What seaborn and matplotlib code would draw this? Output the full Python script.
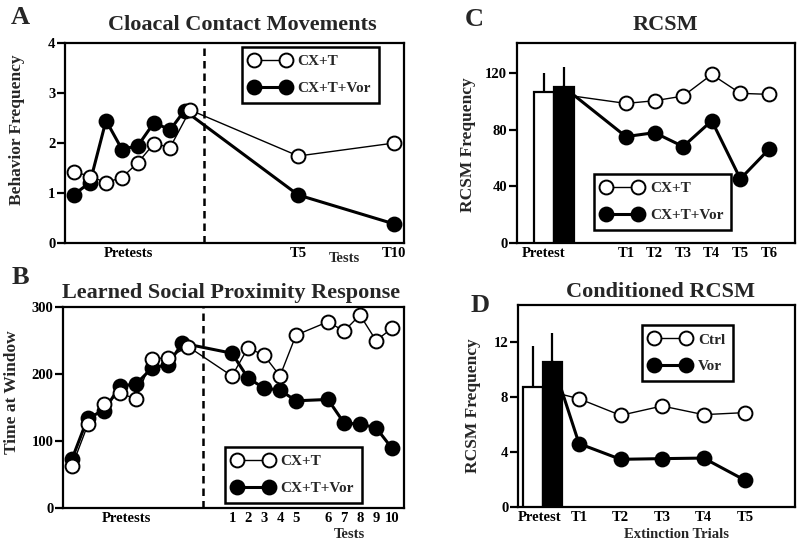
import numpy as np
import pandas as pd
import seaborn as sns
import matplotlib.pyplot as plt
from matplotlib.lines import Line2D

# --- Panel A : Cloacal Contact Movements
a_pre_x_ctrl = [1, 2, 3, 4, 5, 6, 7, 8.25]
a_pre_x_vor = [1, 2, 3, 4, 5, 6, 7, 7.9]
a_pre_ctrl = [1.43, 1.33, 1.21, 1.31, 1.61, 1.99, 1.91, 2.66]
a_pre_vor = [0.97, 1.21, 2.45, 1.87, 1.95, 2.41, 2.26, 2.65]
a_test_x = [15, 21]
a_test_labels = ["T5", "T10"]
a_test_ctrl = [1.74, 2.00]
a_test_vor = [0.96, 0.38]

# --- Panel B : Learned Social Proximity Response
b_pre_x_ctrl = [1, 2, 3, 4, 5, 6, 7, 8.25]
b_pre_x_vor = [1, 2, 3, 4, 5, 6, 7, 7.9]
b_pre_ctrl = [62, 125, 155, 171, 163, 223, 224, 241]
b_pre_vor = [73, 135, 145, 182, 185, 209, 214, 246]
b_test_x = [11, 12, 13, 14, 15, 17, 18, 19, 20, 21]
b_test_labels = ["1", "2", "3", "4", "5", "6", "7", "8", "9", "10"]
b_test_ctrl = [197, 239, 228, 197, 258, 278, 264, 288, 250, 268]
b_test_vor = [231, 194, 179, 176, 160, 162, 127, 125, 120, 89]

# --- Panel C : RCSM
c_bar_x = [-1.88, -1.18]
c_bar_mean = [106.5, 110]
c_bar_err = [13, 14]
c_test_x = [1, 2, 3, 4, 5, 6]
c_test_labels = ["T1", "T2", "T3", "T4", "T5", "T6"]
c_test_ctrl = [98.4, 100.3, 103.6, 118.8, 105.5, 104.8]
c_test_vor = [75, 77.8, 68, 86.2, 45.2, 66.1]

# --- Panel D : Conditioned RCSM
d_bar_x = [-0.12, 0.36]
d_bar_mean = [8.73, 10.55]
d_bar_err = [2.95, 2.1]
d_test_x = [1, 2, 3, 4, 5]
d_test_labels = ["T1", "T2", "T3", "T4", "T5"]
d_test_ctrl = [7.88, 6.67, 7.35, 6.72, 6.87]
d_test_vor = [4.61, 3.47, 3.52, 3.56, 1.94]

sns.set_theme(style="ticks")
plt.rcParams["font.family"] = ["Liberation Serif", "DejaVu Serif"]
plt.rcParams["font.weight"] = "bold"

W, H = 800, 544
fig = plt.figure(figsize=(8, 5.44), dpi=100)


def px_axes(l, t, r, b):
    return fig.add_axes([l / W, 1 - b / H, (r - l) / W, (b - t) / H])


def ftext(x, y, s, **kw):
    fig.text(x / W, 1 - y / H, s, ha="center", va="center", **kw)


def series(ax, x, y, filled, skip_first=False):
    df = pd.DataFrame({"x": x, "y": y})
    kw = dict(color="black", marker="o", markersize=10,
              markerfacecolor="black" if filled else "white",
              markeredgecolor="black", markeredgewidth=1.4,
              linewidth=2.2 if filled else 1.0, zorder=4 if filled else 5)
    if skip_first:
        kw["markevery"] = list(range(1, len(x)))
        kw["zorder"] = 2
    sns.lineplot(data=df, x="x", y="y", ax=ax, sort=False, errorbar=None, **kw)


def style(ax):
    for s in ax.spines.values():
        s.set_linewidth(1.6)
        s.set_color("black")
        s.set_visible(True)
    ax.tick_params(axis="y", direction="out", length=6, width=1.6, pad=1,
                   labelsize=10.5, colors="black")
    ax.tick_params(axis="x", length=0, pad=3, labelsize=10.5, colors="black")
    ax.set_xlabel("")
    ax.set_ylabel("")
    for lab in ax.get_xticklabels() + ax.get_yticklabels():
        lab.set_fontweight("bold")


def legend(ax, labels, x0, ytop):
    h = [Line2D([], [], color="black", lw=1.0, marker="o", ms=10, mfc="white", mec="black", mew=1.4),
         Line2D([], [], color="black", lw=2.2, marker="o", ms=10, mfc="black", mec="black", mew=1.4)]
    leg = ax.legend(h, labels, loc="upper left", bbox_to_anchor=(x0, ytop), numpoints=2,
                    handlelength=2.7, handletextpad=0.45, borderpad=0.5, labelspacing=0.85,
                    borderaxespad=0, frameon=True, fancybox=False, framealpha=1,
                    edgecolor="black", prop=dict(weight="bold", size=11))
    leg.get_frame().set_linewidth(1.8)
    leg.set_zorder(10)


# ---------------- A
axA = px_axes(65, 43, 404, 243)
series(axA, a_pre_x_vor + a_test_x, a_pre_vor + a_test_vor, True)
series(axA, a_pre_x_ctrl + a_test_x, a_pre_ctrl + a_test_ctrl, False)
axA.axvline(9.1, color="black", ls=(0, (3, 2)), lw=1.8, zorder=1)
axA.set_xlim(0.44, 21.6)
axA.set_ylim(0, 4)
axA.set_yticks([0, 1, 2, 3, 4])
axA.set_xticks([4.4] + a_test_x)
axA.set_xticklabels(["Pretests"] + a_test_labels)
style(axA)
legend(axA, ["CX+T", "CX+T+Vor"], 0.522, 0.98)

# ---------------- B
axB = px_axes(63, 307, 404, 508)
series(axB, b_pre_x_vor + b_test_x, b_pre_vor + b_test_vor, True)
series(axB, b_pre_x_ctrl + b_test_x, b_pre_ctrl + b_test_ctrl, False)
axB.axvline(9.2, color="black", ls=(0, (3, 2)), lw=1.8, zorder=1)
axB.set_xlim(0.44, 21.75)
axB.set_ylim(0, 300)
axB.set_yticks([0, 100, 200, 300])
axB.set_xticks([4.4] + b_test_x)
axB.set_xticklabels(["Pretests"] + b_test_labels)
style(axB)
legend(axB, ["CX+T", "CX+T+Vor"], 0.475, 0.303)

# ---------------- C
axC = px_axes(517, 43, 795, 243)
series(axC, [c_bar_x[1]] + c_test_x, [c_bar_mean[1]] + c_test_vor, True, skip_first=True)
series(axC, [c_bar_x[0]] + c_test_x, [c_bar_mean[0]] + c_test_ctrl, False, skip_first=True)
axC.bar(c_bar_x, c_bar_mean, width=0.7, color=["white", "black"], edgecolor="black",
        linewidth=1.6, zorder=3)
axC.vlines(c_bar_x, c_bar_mean, np.add(c_bar_mean, c_bar_err), color="black", lw=1.6, zorder=3)
axC.set_xlim(-2.81, 6.91)
axC.set_ylim(0, 141)
axC.set_yticks([0, 40, 80, 120])
axC.set_xticks([-1.88] + c_test_x)
axC.set_xticklabels(["Pretest"] + c_test_labels)
style(axC)
legend(axC, ["CX+T", "CX+T+Vor"], 0.277, 0.345)

# ---------------- D
axD = px_axes(518, 305, 795, 507)
series(axD, [d_bar_x[1]] + d_test_x, [d_bar_mean[1]] + d_test_vor, True, skip_first=True)
series(axD, [d_bar_x[0]] + d_test_x, [d_bar_mean[0]] + d_test_ctrl, False, skip_first=True)
axD.bar(d_bar_x, d_bar_mean, width=0.48, color=["white", "black"], edgecolor="black",
        linewidth=1.6, zorder=3)
axD.vlines(d_bar_x, d_bar_mean, np.add(d_bar_mean, d_bar_err), color="black", lw=1.6, zorder=3)
axD.set_xlim(-0.47, 6.2)
axD.set_ylim(0, 14.7)
axD.set_yticks([0, 4, 8, 12])
axD.set_xticks([0.05] + d_test_x)
axD.set_xticklabels(["Pretest"] + d_test_labels)
style(axD)
legend(axD, ["Ctrl", "Vor"], 0.448, 0.90)

# ---------------- titles, letters, labels
ftext(242, 25, "Cloacal Contact Movements", size=16, weight="bold")
ftext(231, 293, "Learned Social Proximity Response", size=16, weight="bold")
ftext(665, 25, "RCSM", size=16, weight="bold")
ftext(660, 292, "Conditioned RCSM", size=16, weight="bold")

ftext(20, 17, "A", size=19, weight="bold")
ftext(20, 277, "B", size=19, weight="bold")
ftext(474, 19, "C", size=19, weight="bold")
ftext(480, 306, "D", size=19, weight="bold")

ftext(17, 130, "Behavior Frequency", size=12.5, weight="bold", rotation=90)
ftext(12, 392, "Time at Window", size=12.5, weight="bold", rotation=90)
ftext(468, 145, "RCSM Frequency", size=12.5, weight="bold", rotation=90)
ftext(473, 406, "RCSM Frequency", size=12.5, weight="bold", rotation=90)

ftext(344, 259, "Tests", size=10.5, weight="bold")
ftext(349, 534, "Tests", size=10.5, weight="bold")
ftext(677, 535, "Extinction Trials", size=10.5, weight="bold")

fig.savefig("out.png", dpi=100)
